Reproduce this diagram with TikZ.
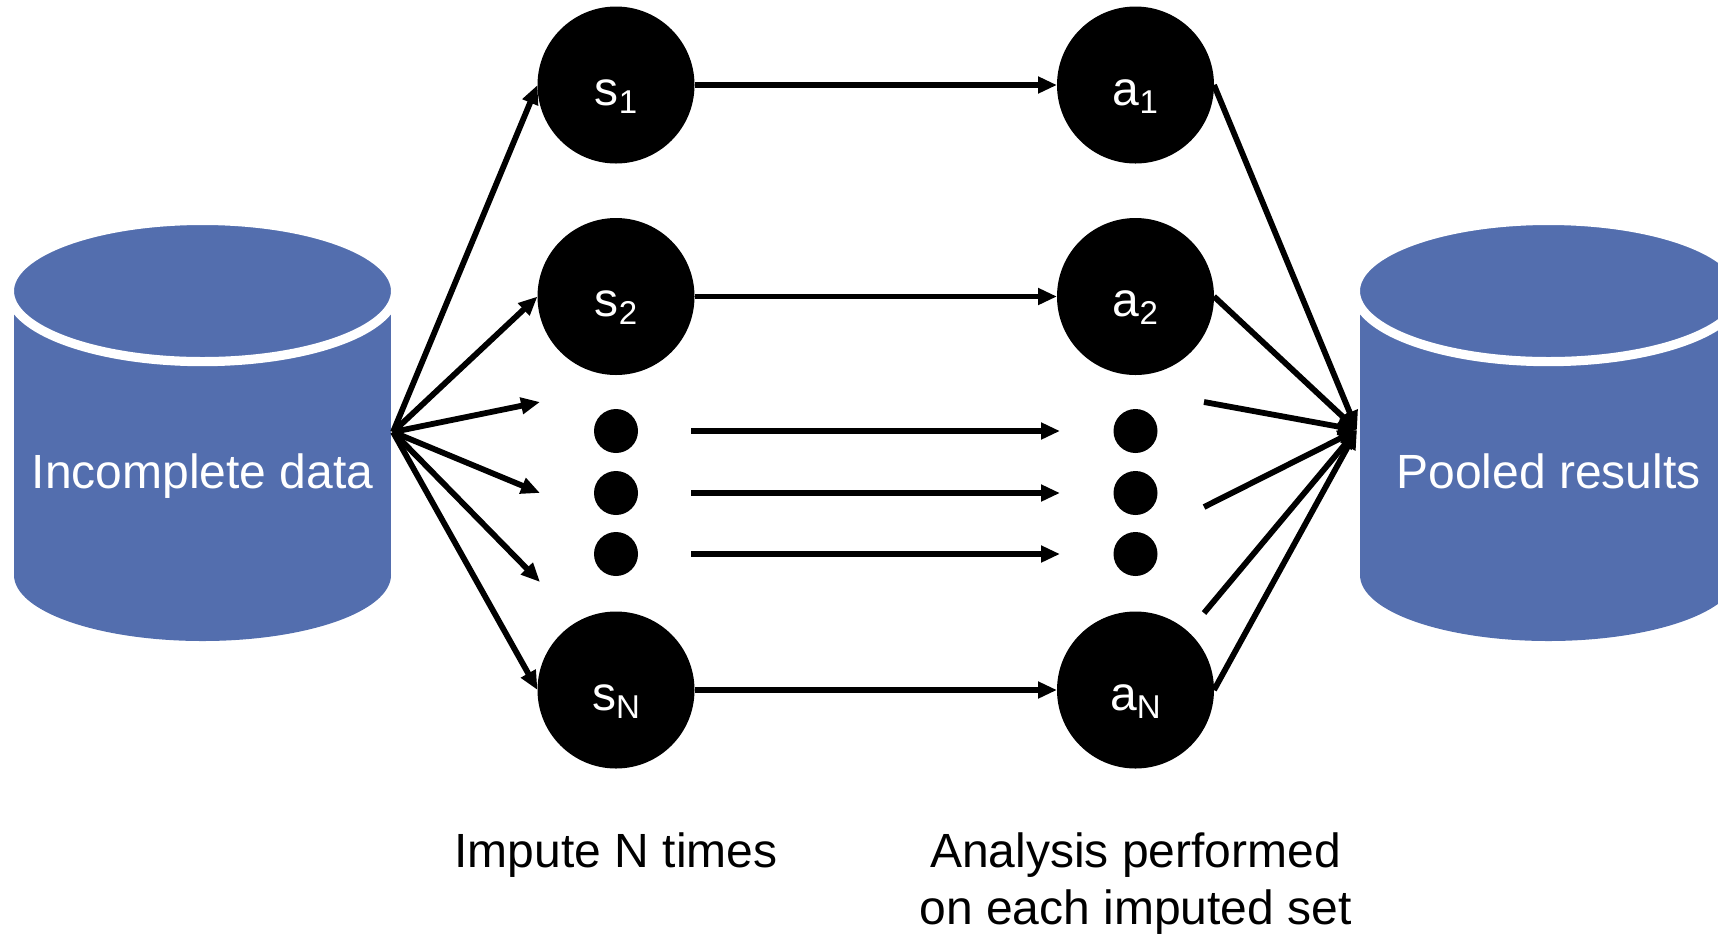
\documentclass[tikz,border=0pt]{standalone}
\usepackage{fontspec}
\setmainfont{Liberation Sans}
\usetikzlibrary{arrows.meta}
\definecolor{drum}{RGB}{83, 110, 174}
\newcommand{\bigtext}{\fontsize{24}{28.5}\selectfont}
\newcommand{\lowered}[1]{\raisebox{-4pt}{\fontsize{16.5}{18}\selectfont #1}}

\begin{document}
\begin{tikzpicture}[x=0.5pt, y=-0.5pt, font=\bigtext,
    >={Triangle[length=9.5pt, width=8pt]},
    link/.style={draw, line width=2.9pt, ->},
    stage/.style={circle, fill=black, text=white, inner sep=0pt, outer sep=0pt,
      minimum size=78.5pt, text height=24pt, text depth=4pt},
    gap/.style={circle, fill=black, inner sep=0pt, minimum size=22pt},
    rim/.style={fill=drum, draw=white, line width=4.6pt}]

  \clip (0, 0) rectangle (1718, 933);

  \fill[drum] (14, 291) rectangle (391, 575);
  \fill[drum] (202.5, 575) ellipse (188.5 and 66);
  \path[rim] (202.5, 291) ellipse (193.1 and 70.6);
  \node[text=white, anchor=base] (incomplete) at (202.5, 488) {Incomplete data};

  \fill[drum] (1360, 291) rectangle (1737, 575);
  \fill[drum] (1548.5, 575) ellipse (188.5 and 66);
  \path[rim] (1548.5, 291) ellipse (193.1 and 70.6);
  \node[text=white, anchor=base] (pooled) at (1548.5, 488) {Pooled results};

  \node[stage] (s1) at (616, 85) {s\lowered{1}};
  \node[stage] (s2) at (616, 296.5) {s\lowered{2}};
  \node[stage] (sN) at (616, 690) {s\lowered{N}};
  \node[stage] (a1) at (1135.5, 85) {a\lowered{1}};
  \node[stage] (a2) at (1135.5, 296.5) {a\lowered{2}};
  \node[stage] (aN) at (1135.5, 690) {a\lowered{N}};

  \node[gap] (sgap1) at (616, 431) {};
  \node[gap] (sgap2) at (616, 493) {};
  \node[gap] (sgap3) at (616, 554) {};
  \node[gap] (agap1) at (1135.5, 431) {};
  \node[gap] (agap2) at (1135.5, 493) {};
  \node[gap] (agap3) at (1135.5, 554) {};

  \coordinate (out) at (393, 432);
  \coordinate (in) at (1357, 430);

  \coordinate (outtip1) at (540, 402);
  \coordinate (outtip2) at (540, 493);
  \coordinate (outtip3) at (540, 582);

  \coordinate (midfrom1) at (691, 431);
  \coordinate (midfrom2) at (691, 493);
  \coordinate (midfrom3) at (691, 554);
  \coordinate (midto1) at (1060, 431);
  \coordinate (midto2) at (1060, 493);
  \coordinate (midto3) at (1060, 554);

  \coordinate (instart1) at (1204, 402);
  \coordinate (instart2) at (1204, 507);
  \coordinate (instart3) at (1204, 613);

  \draw[link] (out) -- (s1.west);
  \draw[link] (out) -- (s2.west);
  \draw[link] (out) -- (outtip1);
  \draw[link] (out) -- (outtip2);
  \draw[link] (out) -- (outtip3);
  \draw[link] (out) -- (sN.west);

  \draw[link] (s1) -- (a1);
  \draw[link] (s2) -- (a2);
  \draw[link] (midfrom1) -- (midto1);
  \draw[link] (midfrom2) -- (midto2);
  \draw[link] (midfrom3) -- (midto3);
  \draw[link] (sN) -- (aN);

  \draw[link] (a1.east) -- (in);
  \draw[link] (a2.east) -- (in);
  \draw[link] (instart1) -- (in);
  \draw[link] (instart2) -- (in);
  \draw[link] (instart3) -- (in);
  \draw[link] (aN.east) -- (in);

  \node[anchor=base] (impute) at (616, 867) {Impute N times};
  \node[anchor=base, align=center] (analysis) at (1135.5, 924)
  {Analysis performed\\on each imputed set};

\end{tikzpicture}
\end{document}
